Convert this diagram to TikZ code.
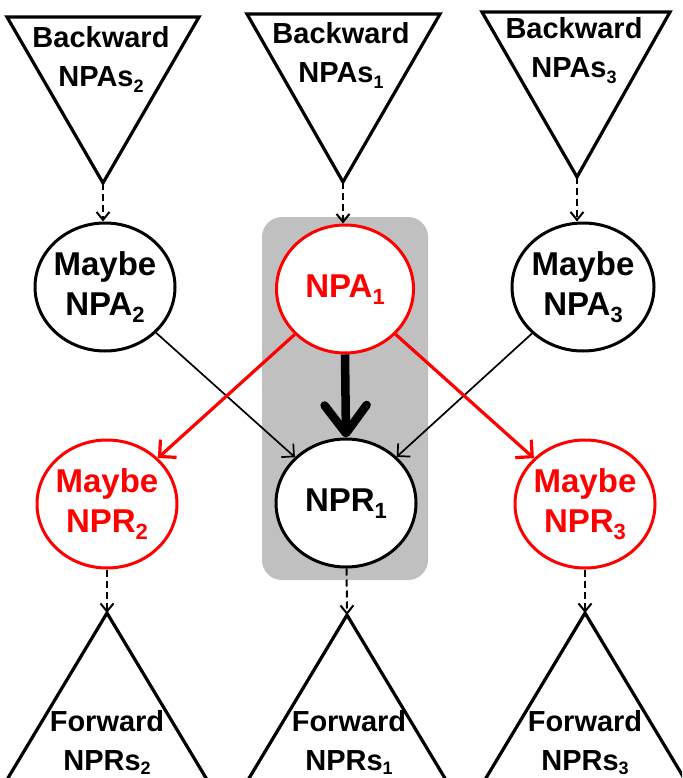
\documentclass[tikz,border=0pt]{standalone}
\usepackage{fontspec}
\setmainfont{Liberation Sans}
\usetikzlibrary{arrows.meta,shapes.geometric}

\definecolor{boxgray}{HTML}{C0C0C0}
\definecolor{hotred}{HTML}{FF0000}

% lowered index digit: #1 drop, #2 size, #3 digit
\newcommand\lowidx[3]{\raisebox{-#1}{\fontsize{#2}{#2}\selectfont #3}}
% centred stack of lines, zero width so the ellipse size is set by its options
\newcommand\stk[1]{\makebox[0pt]{\raisebox{-3pt}{\begin{tabular}{@{}c@{}}#1\end{tabular}}}}
% stack whose baseline is the first line
\newcommand\stkt[1]{\begin{tabular}[t]{@{}c@{}}#1\end{tabular}}

\begin{document}
\begin{tikzpicture}[x=1pt,y=-1pt,
  tri/.style={draw=black, line width=3.2pt, line join=miter},
  trilabel/.style={anchor=base, inner sep=0pt,
    font=\fontsize{29}{39}\selectfont\bfseries},
  state/.style={ellipse, draw=black, fill=white, line width=3pt,
    minimum width=140pt, minimum height=128pt, inner sep=0pt,
    font=\fontsize{33}{40}\selectfont\bfseries},
  hot/.style={draw=hotred, text=hotred},
  dashlink/.style={draw=black, line width=2pt, dash pattern=on 7pt off 4pt,
    -{Straight Barb[length=8pt,width=13pt]}},
  thinlink/.style={draw=black, line width=1.7pt,
    -{Straight Barb[length=9pt,width=18pt]}},
  redlink/.style={draw=hotred, line width=3.2pt,
    -{Straight Barb[length=12pt,width=24pt]}},
  heavylink/.style={draw=black, line width=8.5pt,
    -{Straight Barb[length=28pt,width=42pt,round]}}
]
\useasboundingbox (0,0) rectangle (682,778);
\clip (0,0) rectangle (682,778);

% shaded pair NPA_1 / NPR_1
\fill[boxgray, rounded corners=20pt] (262,217) rectangle (428,580);

% backward triangles (apex down)
\coordinate (tlA) at (103,183);
\coordinate (tcA) at (343,182);
\coordinate (trA) at (577,177);
\draw[tri] (7,17) -- (199,17) -- (tlA) -- cycle;
\draw[tri] (247,14) -- (440,14) -- (tcA) -- cycle;
\draw[tri] (482,12) -- (670,12) -- (trA) -- cycle;
\node[trilabel] (tlT) at (101,48) {\stkt{Backward\\NPAs\lowidx{6pt}{18}{2}}};
\node[trilabel] (tcT) at (341,44) {\stkt{Backward\\NPAs\lowidx{6pt}{18}{1}}};
\node[trilabel] (trT) at (574,39) {\stkt{Backward\\NPAs\lowidx{6pt}{18}{3}}};

% forward triangles (apex up)
\coordinate (blA) at (107,613);
\coordinate (bcA) at (347,615);
\coordinate (brA) at (585,613);
\draw[tri] (blA) ++(-108,180) -- (blA) -- ++(108,180);
\draw[tri] (bcA) ++(-108,180) -- (bcA) -- ++(108,180);
\draw[tri] (brA) ++(-108,180) -- (brA) -- ++(108,180);
\node[trilabel] (blT) at (107,731) {\stkt{Forward\\NPRs\lowidx{4pt}{18}{2}}};
\node[trilabel] (bcT) at (349,731) {\stkt{Forward\\NPRs\lowidx{4pt}{18}{1}}};
\node[trilabel] (brT) at (585,731) {\stkt{Forward\\NPRs\lowidx{4pt}{18}{3}}};

% states
\node[state] (m2) at (105,287) {\stk{Maybe\\NPA\lowidx{7pt}{22}{2}}};
\node[state, hot, minimum width=137pt] (a1) at (345,289) {\stk{NPA\lowidx{7pt}{22}{1}}};
\node[state, minimum width=142pt] (m3) at (583,287) {\stk{Maybe\\NPA\lowidx{7pt}{22}{3}}};
\node[state, hot] (r2) at (107,504) {\stk{Maybe\\NPR\lowidx{7pt}{22}{2}}};
\node[state] (r1) at (346,503) {\stk{NPR\lowidx{7pt}{22}{1}}};
\node[state, hot] (r3) at (585,504) {\stk{Maybe\\NPR\lowidx{7pt}{22}{3}}};

% links
\draw[dashlink] (tlA) -- (tlA |- m2.north);
\draw[dashlink] (tcA) -- (tcA |- a1.north);
\draw[dashlink] (trA) -- (trA |- m3.north);
\draw[thinlink] (m2) -- (r1);
\draw[thinlink] (m3) -- (r1);
\draw[redlink] (a1) -- (r2);
\draw[redlink] (a1) -- (r3);
\draw[heavylink] (a1.south) -- (r1.north);
\draw[dashlink] (r2) -- (blA);
\draw[dashlink] (r1) -- (bcA);
\draw[dashlink] (r3) -- (brA);
\end{tikzpicture}
\end{document}
